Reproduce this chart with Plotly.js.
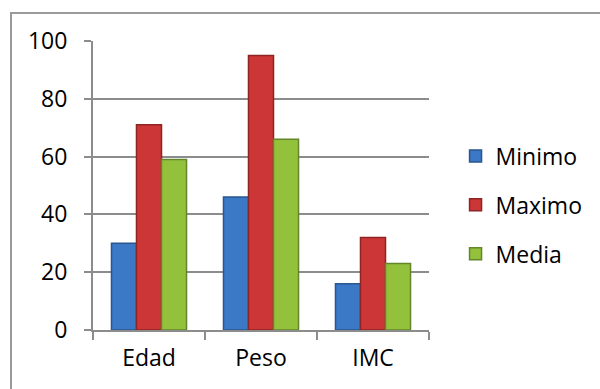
<!DOCTYPE html>
<html>
<head>
<meta charset="utf-8">
<script src="https://cdn.plot.ly/plotly-3.0.1.min.js"></script>
<style>
  html, body { margin: 0; padding: 0; background: #fff; }
  #wrap { position: relative; width: 600px; height: 389px; overflow: hidden; }
  #chart { position: absolute; left: 0; top: 0; width: 600px; height: 389px; }
  #frame { position: absolute; left: 10px; top: 12px; width: 620px; height: 400px;
           border: 2px solid #9a9a9a; box-sizing: border-box; pointer-events: none; }
</style>
</head>
<body>
<div id="wrap">
  <div id="chart"></div>
  <div id="frame"></div>
</div>
<script>
const categories = ["Edad", "Peso", "IMC"];
const minimo = [30, 46, 16];
const maximo = [71, 95, 32];
const media = [59, 66, 23];
const seriesNames = ["Minimo", "Maximo", "Media"];
const yTicks = [0, 20, 40, 60, 80, 100];

const fillColors = ["#3b78c6", "#cd3636", "#93c13c"];
const lineColors = ["#2a568f", "#8e2424", "#64862a"];
const seriesValues = [minimo, maximo, media];

const traces = seriesValues.map((vals, i) => ({
  type: "bar",
  name: seriesNames[i],
  x: categories,
  y: vals,
  legendgroup: "g" + i,
  marker: { color: fillColors[i], line: { color: lineColors[i], width: 1.5 } },
  hoverinfo: "skip"
}));

const fontFam = "'Open Sans', 'Liberation Sans', sans-serif";

const layout = {
  width: 600,
  height: 389,
  margin: { l: 93, r: 166, t: 41, b: 59, pad: 0 },
  paper_bgcolor: "#ffffff",
  plot_bgcolor: "#ffffff",
  font: { family: fontFam, size: 23, color: "#000000" },
  barmode: "group",
  bargap: 0.33,
  bargroupgap: 0,
  showlegend: true,
  legend: {
    x: 1.079, xanchor: "left", xref: "paper",
    y: 0.4325, yanchor: "middle",
    font: { family: fontFam, size: 23, color: "#000" },
    tracegroupgap: 16,
    traceorder: "grouped",
    itemwidth: 30,
    bgcolor: "rgba(0,0,0,0)"
  },
  xaxis: {
    type: "category",
    showgrid: false,
    showline: true,
    linecolor: "#8c8c8c",
    linewidth: 2,
    ticks: "outside",
    tickson: "boundaries",
    ticklen: 8,
    tickwidth: 2,
    tickcolor: "#8c8c8c",
    ticklabelstandoff: 6,
    tickfont: { family: fontFam, size: 23, color: "#000" },
    zeroline: false
  },
  yaxis: {
    range: [0, 100],
    tickvals: yTicks,
    ticktext: yTicks.map(String),
    showgrid: true,
    gridcolor: "#8c8c8c",
    gridwidth: 2,
    showline: true,
    linecolor: "#8c8c8c",
    linewidth: 2,
    ticks: "outside",
    ticklen: 7,
    tickwidth: 2,
    tickcolor: "#8c8c8c",
    ticklabelstandoff: 12,
    tickfont: { family: fontFam, size: 23, color: "#000" },
    zeroline: false,
    fixedrange: true
  }
};

Plotly.newPlot("chart", traces, layout, { displayModeBar: false, staticPlot: true });
</script>
</body>
</html>
